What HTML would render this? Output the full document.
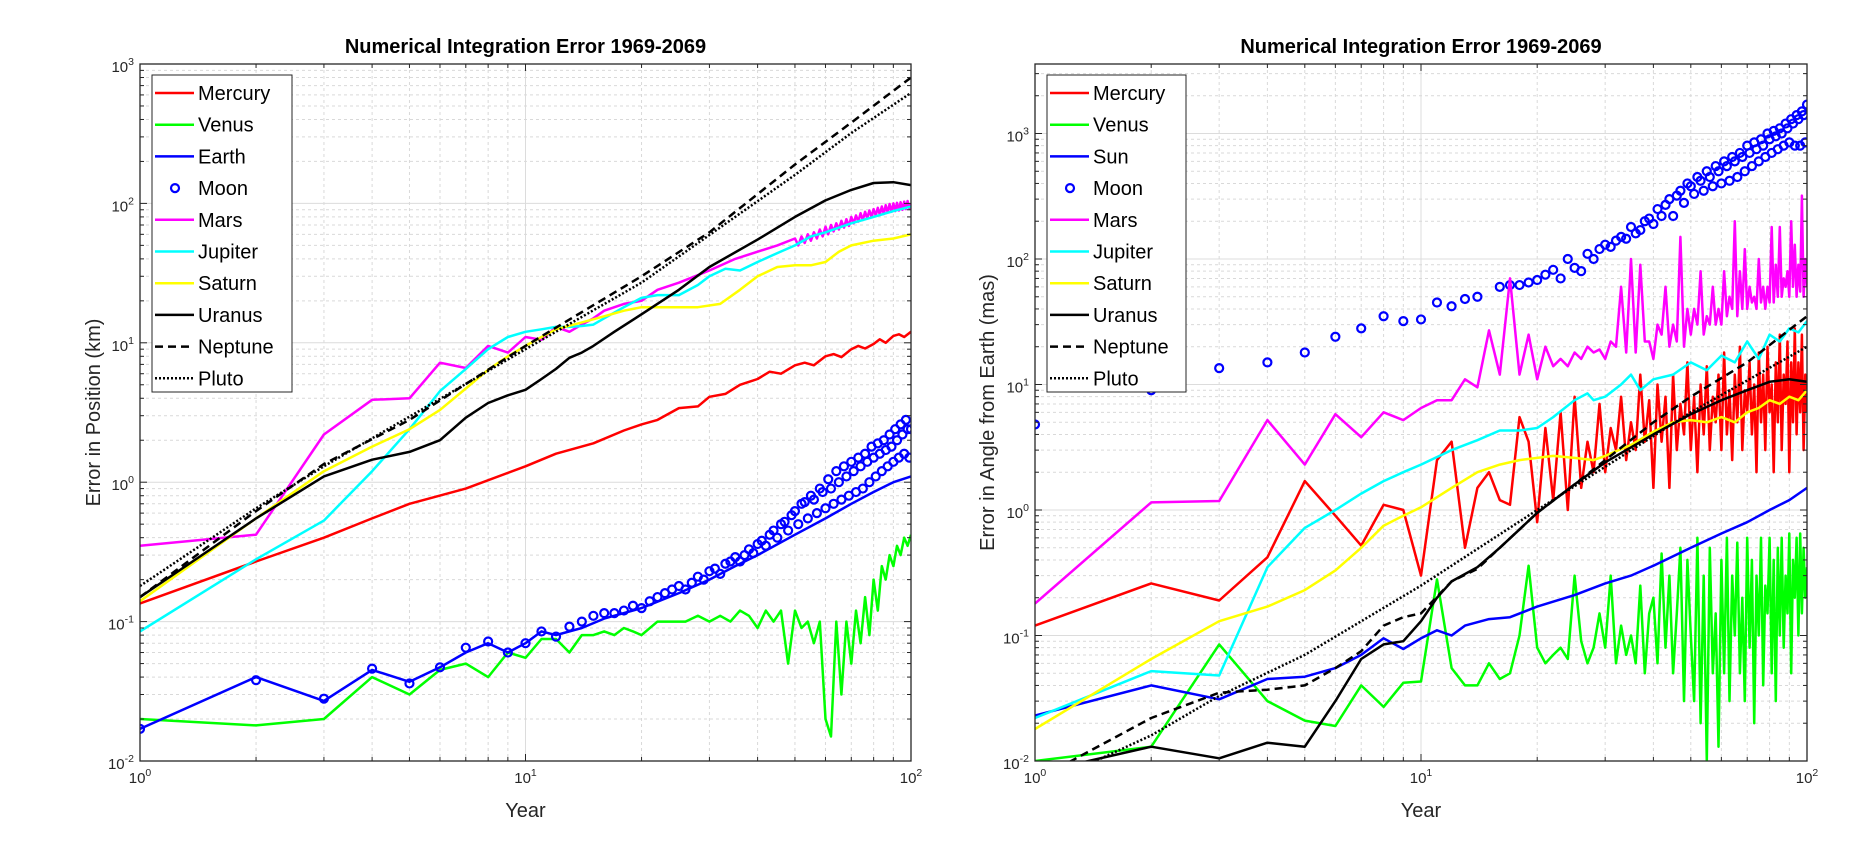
<!DOCTYPE html>
<html><head><meta charset="utf-8">
<style>
html,body{margin:0;padding:0;background:#fff;}
svg{display:block;font-family:"Liberation Sans",Arial,sans-serif;}
</style></head>
<body>
<svg id="fig" width="1850" height="856" viewBox="0 0 1850 856"></svg>
<script>
// ---------- LEFT CHART DATA ----------
const leftTitle = "Numerical Integration Error 1969-2069";
const leftYLabel = "Error in Position (km)";
const xTickExps = [0, 1, 2];
const leftYTickExps = [-2, -1, 0, 1, 2, 3];
const rightYTickExps = [-2, -1, 0, 1, 2, 3];

const L_mercury_t = [1,2,3,4,5,7,10,12,15,18,20,22,25,28,30,33,36,40,43,46,50,53,56,60,63,66,70,73,76,80,83,86,90,93,96,100];
const L_mercury_v = [0.135,0.27,0.4,0.55,0.7,0.9,1.3,1.6,1.9,2.35,2.6,2.8,3.4,3.5,4.1,4.3,5.0,5.5,6.2,6.0,6.9,7.2,6.9,8.0,8.3,7.9,9.0,9.5,9.1,9.8,10.6,10.0,11.2,11.5,11.0,12.0];

const L_venus_t = [1,2,3,4,5,6,7,8,9,10,11,12,13,14,15,16,17,18,19,20,22,24,26,28,30,32,34,36,38,40,42,44,46,48,50,52,54,56,58,60,62,64,66,68,70,72,74,76,78,80,82,84,86,88,90,92,94,96,98,100];
const L_venus_v = [0.02,0.018,0.02,0.04,0.03,0.045,0.05,0.04,0.06,0.055,0.075,0.075,0.06,0.08,0.08,0.085,0.08,0.09,0.085,0.08,0.1,0.1,0.1,0.11,0.1,0.11,0.1,0.12,0.11,0.09,0.12,0.1,0.12,0.05,0.12,0.09,0.1,0.07,0.1,0.02,0.015,0.1,0.03,0.1,0.05,0.12,0.07,0.15,0.08,0.2,0.12,0.25,0.2,0.3,0.25,0.35,0.3,0.4,0.35,0.42];

const L_earth_t = [1,2,3,4,5,6,7,8,9,10,11,12,14,16,18,20,25,30,35,40,50,60,70,80,90,100];
const L_earth_v = [0.017,0.04,0.027,0.045,0.037,0.047,0.06,0.07,0.06,0.07,0.085,0.08,0.09,0.105,0.115,0.125,0.16,0.2,0.25,0.3,0.42,0.55,0.7,0.85,1.0,1.1];

const L_moon_t = [1,2,3,4,5,6,7,8,9,10,11,12,13,14,15,16,17,18,19,20,21,22,23,24,25,26,27,28,29,30,31,32,33,34,35,36,37,38,39,40,41,42,43,44,45,46,47,48,49,50,51,52,53,54,55,56,57,58,59,60,61,62,63,64,65,66,67,68,69,70,71,72,73,74,75,76,77,78,79,80,81,82,83,84,85,86,87,88,89,90,91,92,93,94,95,96,97,98,99,100];
const L_moon_v = [0.017,0.038,0.028,0.046,0.036,0.047,0.065,0.072,0.06,0.07,0.085,0.078,0.092,0.1,0.11,0.115,0.115,0.12,0.13,0.125,0.14,0.15,0.16,0.17,0.18,0.17,0.19,0.21,0.2,0.23,0.24,0.22,0.26,0.27,0.29,0.27,0.3,0.33,0.31,0.36,0.38,0.35,0.42,0.45,0.4,0.5,0.52,0.45,0.58,0.62,0.5,0.7,0.72,0.55,0.8,0.75,0.6,0.9,0.85,0.65,1.05,0.9,0.7,1.2,1.0,0.75,1.3,1.1,0.8,1.4,1.2,0.85,1.5,1.3,0.9,1.6,1.4,1.0,1.8,1.5,1.1,1.9,1.6,1.2,2.0,1.7,1.3,2.2,1.8,1.4,2.4,2.0,1.5,2.6,2.2,1.6,2.8,2.4,1.5,2.4];

const L_mars_t = [1,2,3,4,5,6,7,8,9,10,11,12,13,14,15,16,18,20,22,25,30,35,40,45,50,51,52,53,54,55,56,57,58,59,60,61,62,63,64,65,66,67,68,69,70,71,72,73,74,75,76,77,78,79,80,81,82,83,84,85,86,87,88,89,90,91,92,93,94,95,96,97,98,99,100];
const L_mars_v = [0.35,0.42,2.2,3.9,4.0,7.2,6.6,9.5,8.5,11,10.5,13,12,13.5,15,17,19,20,24,27,33,40,45,50,56,50,58,52,60,54,62,56,65,58,68,60,70,63,72,65,75,67,77,69,80,72,82,74,85,76,87,78,89,80,91,82,93,83,95,84,97,86,99,87,100,88,101,89,102,90,103,91,104,92,100];

const L_jup_t = [1,2,3,4,5,6,7,8,9,10,11,12,13,14,15,16,18,20,22,25,28,30,33,36,40,45,50,55,60,70,80,90,100];
const L_jup_v = [0.085,0.28,0.53,1.2,2.4,4.5,6.5,9,11,12,12.5,13,13,13.2,13.5,15,18,21,22,22,26,30,34,33,38,44,50,58,62,72,80,88,95];

const L_sat_t = [1,2,3,4,5,6,7,8,9,10,11,12,14,16,18,20,24,28,32,36,40,45,50,55,60,65,70,80,90,100];
const L_sat_v = [0.14,0.55,1.2,1.8,2.4,3.3,4.7,6.4,8,9.5,11,12.5,14,15.5,17,18,18,18,19,24,30,35,36,36,38,45,50,54,56,60];

const L_ura_t = [1,2,3,4,5,6,7,8,9,10,11,12,13,14,15,17,20,25,30,40,50,60,70,80,90,100];
const L_ura_v = [0.15,0.55,1.1,1.45,1.65,2.0,2.9,3.7,4.2,4.6,5.5,6.5,7.8,8.5,9.5,12,16,24,35,55,80,105,125,140,142,135];

const L_nep_t = [1,2,3,5,10,20,30,50,70,100];
const L_nep_v = [0.15,0.62,1.35,2.8,9.5,30,62,190,380,800];

const L_plu_t = [1,2,3,10,20,50,70,100];
const L_plu_v = [0.18,0.65,1.3,9,27,160,320,620];

// ---------- RIGHT CHART DATA ----------
const rightTitle = "Numerical Integration Error 1969-2069";
const rightYLabel = "Error in Angle from Earth (mas)";

const R_moon_t = [1,2,3,4,5,6,7,8,9,10,11,12,13,14,16,17,18,19,20,21,22,23,24,25,26,27,28,29,30,31,32,33,34,35,36,37,38,39,40,41,42,43,44,45,46,47,48,49,50,51,52,53,54,55,56,57,58,59,60,61,62,63,64,65,66,67,68,69,70,71,72,73,74,75,76,77,78,79,80,81,82,83,84,85,86,87,88,89,90,91,92,93,94,95,96,97,98,99,100];
const R_moon_v = [4.8,9,13.5,15,18,24,28,35,32,33,45,42,48,50,60,62,62,65,68,75,82,70,100,85,80,110,100,120,130,125,140,150,145,180,160,170,200,210,190,250,220,270,300,220,320,350,280,400,380,330,450,420,350,500,450,380,550,500,400,600,550,420,650,600,450,700,650,500,800,700,550,850,750,600,900,800,650,1000,900,700,1050,950,750,1100,1000,800,1200,1100,850,1300,1200,800,1400,1300,800,1500,1400,850,1700];

const R_mars_t = [1,2,3,4,5,6,7,8,9,10,11,12,13,14,15,16,17,18,19,20,21,22,23,24,25,26,27,28,29,30,31,32,33,34,35,36,37,38,39,40,41,42,43,44,45,46,47,48,49,50,51,52,53,54,55,56,57,58,59,60,61,62,63,64,65,66,67,68,69,70,71,72,73,74,75,76,77,78,79,80,81,82,83,84,85,86,87,88,89,90,91,92,93,94,95,96,97,98,99,100];
const R_mars_v = [0.18,1.15,1.18,5.2,2.3,5.8,3.8,6,5.2,6.5,7.5,7.5,11,9.5,27,12,70,12,25,11,20,14,16,14,18,16,20,18,19,16,22,20,60,18,100,18,90,22,22,16,30,25,60,20,30,22,150,20,40,25,40,30,80,25,35,30,60,30,40,30,80,35,50,40,200,35,80,40,120,40,60,45,50,40,100,45,60,40,60,45,180,45,90,50,180,50,70,60,80,50,200,60,130,50,90,55,320,50,100,60];

const R_merc_t = R_mars_t;
const R_merc_v = [0.12,0.26,0.19,0.42,1.7,0.9,0.52,1.1,1.0,0.3,2.5,3.5,0.5,1.5,2.0,1.2,1.1,5.5,3.5,0.8,4.5,1.2,6.0,1.0,8.0,1.5,3.5,2.0,7.0,2.0,4.5,3.0,8.0,2.5,5.0,3.0,12,3.5,7.5,1.5,10,3.5,8.0,1.5,12,3.0,7.0,4.0,15,3.0,8.0,2.0,10,4.0,14,3.0,8.0,5.0,12,3.0,18,4.0,9.0,2.5,12,5.0,20,3.0,9.0,6.0,15,4.0,10,2.0,18,5.0,12,3.0,20,6.0,10,2.0,15,5.0,25,3.0,12,7.0,22,2.0,15,5.0,28,4.0,15,6.0,25,3.0,12,6.0];

const R_venus_t = R_mars_t;
const R_venus_v = [0.01,0.013,0.085,0.03,0.021,0.019,0.04,0.027,0.042,0.043,0.28,0.055,0.04,0.04,0.06,0.045,0.05,0.1,0.36,0.08,0.06,0.07,0.08,0.065,0.3,0.09,0.06,0.08,0.15,0.08,0.3,0.06,0.12,0.07,0.1,0.06,0.25,0.05,0.15,0.2,0.06,0.45,0.08,0.3,0.05,0.15,0.5,0.03,0.4,0.1,0.03,0.6,0.02,0.3,0.01,0.5,0.05,0.15,0.013,0.4,0.05,0.6,0.03,0.3,0.1,0.55,0.05,0.2,0.03,0.6,0.08,0.4,0.02,0.3,0.1,0.6,0.04,0.25,0.15,0.6,0.05,0.4,0.03,0.5,0.1,0.6,0.08,0.3,0.15,0.65,0.05,0.4,0.2,0.6,0.1,0.65,0.15,0.5,0.2,0.35];

const R_sun_t = [1,2,3,4,5,6,7,8,9,10,11,12,13,15,17,20,25,30,35,40,50,60,70,80,90,100];
const R_sun_v = [0.023,0.04,0.031,0.045,0.047,0.055,0.07,0.095,0.078,0.095,0.11,0.1,0.12,0.135,0.14,0.17,0.21,0.26,0.3,0.36,0.5,0.65,0.8,1.0,1.2,1.5];

const R_jup_t = [1,2,3,4,5,6,7,8,9,10,12,14,16,18,20,22,25,27,28,30,33,35,37,40,45,50,55,60,65,70,75,80,85,90,95,100];
const R_jup_v = [0.022,0.052,0.048,0.35,0.72,1.0,1.35,1.7,2.0,2.3,3.0,3.6,4.3,4.3,4.5,5.5,7.5,8.5,7.5,8.0,10,12,9,11,12,15,13,17,15,22,16,25,22,28,26,32];

const R_sat_t = [1,2,3,4,5,6,7,8,9,10,12,14,16,18,20,22,25,28,30,35,40,45,50,55,60,65,70,75,80,85,90,95,100];
const R_sat_v = [0.018,0.065,0.13,0.17,0.23,0.33,0.5,0.75,0.9,1.05,1.5,2.0,2.3,2.5,2.6,2.7,2.6,2.5,2.7,3.3,4.2,5.0,5.2,5.0,5.5,5.0,6.0,6.5,7.5,7.0,8.0,7.5,9.0];

const R_ura_t = [1,2,3,4,5,6,7,8,9,10,11,12,14,16,18,20,25,30,40,50,60,70,80,90,100];
const R_ura_v = [0.008,0.013,0.0105,0.014,0.013,0.03,0.065,0.085,0.09,0.13,0.2,0.27,0.35,0.5,0.7,0.95,1.6,2.4,4.0,5.8,7.5,9,10.5,11,10.5];

const R_nep_t = [1,2,3,4,5,6,7,8,9,10,12,14,16,18,20,25,30,40,50,70,100];
const R_nep_v = [0.007,0.022,0.035,0.037,0.04,0.055,0.075,0.12,0.14,0.15,0.27,0.34,0.5,0.7,0.95,1.6,2.5,5,8,15,35];

const R_plu_t = [1,2,3,5,10,20,50,100];
const R_plu_v = [0.006,0.016,0.033,0.07,0.25,1.0,6,20];

const leftLegendNames = ["Mercury","Venus","Earth","Moon","Mars","Jupiter","Saturn","Uranus","Neptune","Pluto"];
const rightLegendNames = ["Mercury","Venus","Sun","Moon","Mars","Jupiter","Saturn","Uranus","Neptune","Pluto"];

// ---------- DRAWING ----------
const NS = "http://www.w3.org/2000/svg";
const svg = document.getElementById("fig");
function mk(tag, attrs, parent){
  const e = document.createElementNS(NS, tag);
  for (const k in attrs) e.setAttribute(k, attrs[k]);
  (parent||svg).appendChild(e);
  return e;
}

function makeAxes(cfg){
  const g = mk("g", {});
  
  
  const x0 = cfg.x0, x1 = cfg.x1, y0 = cfg.y0, y1 = cfg.y1;
  const xs = t => x0 + (x1 - x0) * Math.log10(t) / 2;
  const ys = v => y1 - (Math.log10(v) - cfg.ymin) * cfg.dec;
  const clipId = cfg.name + "-clip";
  const cp = mk("clipPath", {id: clipId}, g);
  mk("rect", {x: x0, y: y0, width: x1 - x0, height: y1 - y0}, cp);

  const grid = mk("g", {}, g);
  
  
  for (let e = 0; e < 2; e++) for (let m = 1; m <= 9; m++) {
    const x = xs(m * Math.pow(10, e));
    if (m === 1 && e === 0) continue;
    mk("line", {x1: x, x2: x, y1: y0, y2: y1, stroke: m === 1 ? "#dcdcdc" : "#d9d9d9", "stroke-width": 1, "stroke-dasharray": m === 1 ? "none" : "3,3"}, grid);
  }
  for (let e = cfg.ymin; e < cfg.ymaxE; e++) for (let m = 1; m <= 9; m++) {
    const y = ys(m * Math.pow(10, e));
    if (y < y0 || y >= y1) continue;
    mk("line", {x1: x0, x2: x1, y1: y, y2: y, stroke: m === 1 ? "#dcdcdc" : "#d9d9d9", "stroke-width": 1, "stroke-dasharray": m === 1 ? "none" : "3,3"}, grid);
  }

  const plot = mk("g", {"clip-path": "url(#" + clipId + ")"}, g);
  cfg.series.forEach(s => {
    if (s.marker) {
      s.t.forEach((t, i) => {
        const c = mk("circle", {cx: xs(t), cy: ys(s.v[i]), r: 4, fill: "none", stroke: s.color, "stroke-width": 2.2}, plot);
        
        
      });
    } else {
      const d = s.t.map((t, i) => (i ? "L" : "M") + xs(t).toFixed(1) + "," + ys(s.v[i]).toFixed(1)).join(" ");
      const p = mk("path", {d: d, fill: "none", stroke: s.color, "stroke-width": 2.5, "stroke-linejoin": "round", "stroke-dasharray": s.dash || "none"}, plot);
      
      
    }
  });

  mk("rect", {x: x0, y: y0, width: x1 - x0, height: y1 - y0, fill: "none", stroke: "#262626", "stroke-width": 1.3}, g);
  for (let e = 0; e <= 2; e++) for (let m = 1; m <= 9; m++) {
    if (e === 2 && m > 1) break;
    const x = xs(m * Math.pow(10, e)); const len = m === 1 ? 7 : 4;
    mk("line", {x1: x, x2: x, y1: y1, y2: y1 - len, stroke: "#262626"}, g);
    mk("line", {x1: x, x2: x, y1: y0, y2: y0 + len, stroke: "#262626"}, g);
  }
  for (let e = cfg.ymin; e < cfg.ymaxE; e++) for (let m = 1; m <= 9; m++) {
    const y = ys(m * Math.pow(10, e)); if (y < y0 - 0.5) continue;
    const len = m === 1 ? 7 : 4;
    mk("line", {x1: x0, x2: x0 + len, y1: y, y2: y, stroke: "#262626"}, g);
    mk("line", {x1: x1, x2: x1 - len, y1: y, y2: y, stroke: "#262626"}, g);
  }
  xTickExps.forEach(e => {
    const tx = mk("text", {x: xs(Math.pow(10, e)), y: y1 + 22, "font-size": 15, fill: "#262626", "text-anchor": "middle"}, g);
    
    
    tx.innerHTML = '10<tspan dy="-7" font-size="10.5">' + e + '</tspan>';
  });
  cfg.yTicks.forEach(e => {
    const tx = mk("text", {x: x0 - 6, y: ys(Math.pow(10, e)) + 8, "font-size": 15, fill: "#262626", "text-anchor": "end"}, g);
    
    
    tx.innerHTML = '10<tspan dy="-7" font-size="10.5">' + e + '</tspan>';
  });
  const ti = mk("text", {x: (x0 + x1) / 2, y: y0 - 11, "font-size": 20, "font-weight": "bold", fill: "#000", "text-anchor": "middle"}, g);
  
  
  ti.textContent = cfg.title;
  const xl = mk("text", {x: (x0 + x1) / 2, y: y1 + 56, "font-size": 20, fill: "#262626", "text-anchor": "middle"}, g);
  
  
  xl.textContent = "Year";
  const yl = mk("text", {x: 0, y: 0, "font-size": 20, fill: "#262626", "text-anchor": "middle", transform: "translate(" + cfg.ylx + "," + ((y0 + y1) / 2) + ") rotate(-90)"}, g);
  
  
  yl.textContent = cfg.ylabel;

  const lg = mk("g", {}, g);
  
  
  const lx = x0 + 12, ly = 75;
  mk("rect", {x: lx, y: ly, width: cfg.legW, height: 317, fill: "#fff", stroke: "#262626", "stroke-width": 1}, lg);
  cfg.series.forEach((s, i) => {
    const yy = ly + 18 + i * 31.7;
    const en = mk("g", {}, lg);
    
    
    if (s.marker) mk("circle", {cx: lx + 23, cy: yy, r: 4, fill: "none", stroke: s.color, "stroke-width": 2.2}, en);
    else mk("line", {x1: lx + 3, x2: lx + 42, y1: yy, y2: yy, stroke: s.color, "stroke-width": 2.5, "stroke-dasharray": s.dash || "none"}, en);
    const t = mk("text", {x: lx + 46, y: yy + 7, "font-size": 20, fill: "#000"}, en);
    t.textContent = cfg.legendNames[i];
  });
}

makeAxes({
  name: "left-chart", x0: 140, x1: 911, y0: 64, y1: 761, ymin: -2, ymaxE: 3, dec: 139.4,
  yTicks: leftYTickExps, title: leftTitle, ylabel: leftYLabel, ylx: 100, legW: 140,
  legendNames: leftLegendNames,
  series: [
    {name: "mercury", color: "#ff0000", t: L_mercury_t, v: L_mercury_v},
    {name: "venus", color: "#00ff00", t: L_venus_t, v: L_venus_v},
    {name: "earth", color: "#0000ff", t: L_earth_t, v: L_earth_v},
    {name: "moon", color: "#0000ff", t: L_moon_t, v: L_moon_v, marker: true},
    {name: "mars", color: "#ff00ff", t: L_mars_t, v: L_mars_v},
    {name: "jupiter", color: "#00ffff", t: L_jup_t, v: L_jup_v},
    {name: "saturn", color: "#ffff00", t: L_sat_t, v: L_sat_v},
    {name: "uranus", color: "#000000", t: L_ura_t, v: L_ura_v},
    {name: "neptune", color: "#000000", t: L_nep_t, v: L_nep_v, dash: "8,5"},
    {name: "pluto", color: "#000000", t: L_plu_t, v: L_plu_v, dash: "2,2"}
  ]
});
makeAxes({
  name: "right-chart", x0: 1035, x1: 1807, y0: 64, y1: 761, ymin: -2, ymaxE: 4, dec: 125.5,
  yTicks: rightYTickExps, title: rightTitle, ylabel: rightYLabel, ylx: 994, legW: 139,
  legendNames: rightLegendNames,
  series: [
    {name: "mercury", color: "#ff0000", t: R_merc_t, v: R_merc_v},
    {name: "venus", color: "#00ff00", t: R_venus_t, v: R_venus_v},
    {name: "sun", color: "#0000ff", t: R_sun_t, v: R_sun_v},
    {name: "moon", color: "#0000ff", t: R_moon_t, v: R_moon_v, marker: true},
    {name: "mars", color: "#ff00ff", t: R_mars_t, v: R_mars_v},
    {name: "jupiter", color: "#00ffff", t: R_jup_t, v: R_jup_v},
    {name: "saturn", color: "#ffff00", t: R_sat_t, v: R_sat_v},
    {name: "uranus", color: "#000000", t: R_ura_t, v: R_ura_v},
    {name: "neptune", color: "#000000", t: R_nep_t, v: R_nep_v, dash: "8,5"},
    {name: "pluto", color: "#000000", t: R_plu_t, v: R_plu_v, dash: "2,2"}
  ]
});
</script>
</body></html>
